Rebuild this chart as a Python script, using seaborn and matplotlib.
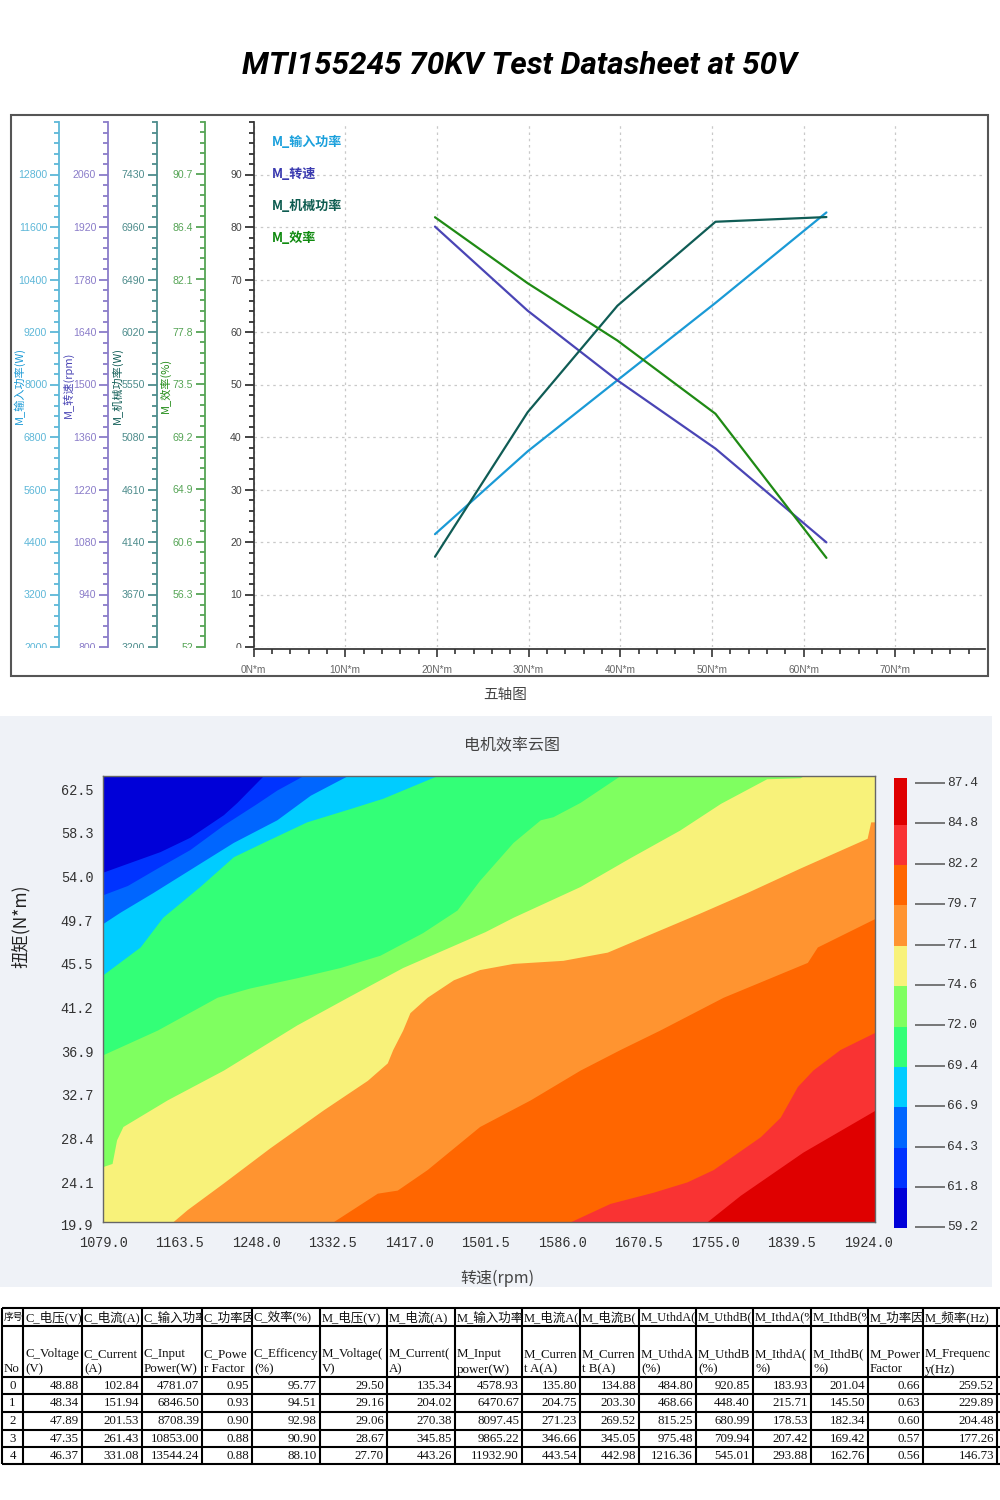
import numpy as np
import matplotlib
matplotlib.use("Agg")
import matplotlib.pyplot as plt
from matplotlib.colors import ListedColormap
from matplotlib.patches import Rectangle
from matplotlib.ticker import FixedLocator, MultipleLocator
import seaborn as sns

# five axis chart
torque = [19.8, 29.9, 39.7, 50.4, 62.5]
input_power = [4578.93, 6470.67, 8097.45, 9865.22, 11932.90]
speed = [1921, 1697, 1511, 1329, 1079]
mech_power = [4008, 5301, 6255, 7007, 7049]
efficiency = [87.2, 81.8, 77.1, 71.1, 59.3]

power_ticks = [2000, 3200, 4400, 5600, 6800, 8000, 9200, 10400, 11600, 12800]
speed_ticks = [800, 940, 1080, 1220, 1360, 1500, 1640, 1780, 1920, 2060]
mech_ticks = [3200, 3670, 4140, 4610, 5080, 5550, 6020, 6490, 6960, 7430]
eff_ticks = [52, 56.3, 60.6, 64.9, 69.2, 73.5, 77.8, 82.1, 86.4, 90.7]
main_ticks = [0, 10, 20, 30, 40, 50, 60, 70, 80, 90]
torque_ticks = [0, 10, 20, 30, 40, 50, 60, 70]
legend_names = ["M_输入功率", "M_转速", "M_机械功率", "M_效率"]

# efficiency map: border between two colour bands
b1_rpm = [1079, 1101, 1142, 1175, 1212, 1227, 1256]
b1_torque = [54.4, 55.1, 56.4, 57.8, 60.0, 61.2, 63.8]
b2_rpm = [1079, 1106, 1139, 1175, 1212, 1249, 1271, 1300]
b2_torque = [52.2, 53.1, 54.8, 56.6, 59.0, 61.1, 62.4, 63.8]
b3_rpm = [1079, 1098, 1134, 1183, 1223, 1271, 1308, 1349]
b3_torque = [49.4, 50.5, 52.4, 55.1, 57.3, 59.5, 61.9, 63.8]
b4_rpm = [1079, 1120, 1145, 1186, 1223, 1256, 1304, 1352, 1388, 1448]
b4_torque = [44.4, 47.1, 50.0, 53.0, 55.9, 57.3, 59.3, 60.6, 61.6, 63.8]
b5_rpm = [1079, 1139, 1205, 1241, 1293, 1341, 1385, 1432, 1470, 1495, 1532, 1562, 1576, 1606, 1650]
b5_torque = [36.6, 39.0, 42.2, 43.1, 44.1, 45.1, 46.3, 48.5, 50.7, 53.6, 57.3, 59.5, 59.8, 61.2, 63.8]
b6_rpm = [1079, 1089, 1094, 1101, 1150, 1212, 1293, 1349, 1410, 1462, 1501, 1532, 1606, 1661, 1716, 1761, 1812, 1849, 1853]
b6_torque = [25.7, 26.0, 28.3, 29.6, 32.2, 35.1, 39.5, 42.2, 45.1, 47.1, 48.6, 50.0, 53.0, 55.8, 58.5, 61.1, 63.5, 63.6, 63.8]
b7_rpm = [1156, 1172, 1212, 1263, 1322, 1371, 1393, 1399, 1410, 1418, 1437, 1466, 1495, 1532, 1587, 1636, 1687, 1738, 1790, 1849, 1923, 1927, 1932]
b7_torque = [20.3, 21.5, 24.1, 27.5, 31.2, 34.1, 35.8, 37.1, 39.0, 40.7, 42.2, 43.9, 44.9, 45.5, 45.8, 46.6, 48.5, 50.4, 52.4, 54.8, 57.7, 59.3, 59.3]
b8_rpm = [1333, 1382, 1404, 1437, 1495, 1551, 1606, 1650, 1694, 1764, 1857, 1868, 1932]
b8_torque = [20.3, 23.1, 23.4, 25.4, 29.6, 32.2, 35.1, 37.1, 39.0, 42.2, 45.6, 47.1, 49.9]
b9_rpm = [1595, 1639, 1687, 1724, 1753, 1805, 1827, 1846, 1863, 1893, 1932]
b9_torque = [20.3, 22.1, 23.2, 24.2, 25.4, 28.6, 30.5, 33.5, 35.1, 37.1, 38.8]
b10_rpm = [1746, 1783, 1852, 1932]
b10_torque = [20.3, 22.9, 27.1, 31.2]

map_x_ticks = [1079.0, 1163.5, 1248.0, 1332.5, 1417.0, 1501.5, 1586.0, 1670.5, 1755.0, 1839.5, 1924.0]
map_y_ticks = [24.1, 28.4, 32.7, 36.9, 41.2, 45.5, 49.7, 54.0, 58.3, 62.5]
level_ticks = [87.4, 84.8, 82.2, 79.7, 77.1, 74.6, 72.0, 69.4, 66.9, 64.3, 61.8, 59.2]
level_colors = ["#0000d8", "#0033ff", "#0066ff", "#00ccff", "#33ff77", "#7fff60",
                "#f8f27a", "#ff9430", "#ff6600", "#f93333", "#df0000"]

# test table, headers cut the way the screenshot cuts them
head_cn = ["序号", "C_电压(V)", "C_电流(A)", "C_输入功率", "C_功率因", "C_效率(%)", "M_电压(V)", "M_电流(A)",
           "M_输入功率", "M_电流A(", "M_电流B(", "M_UthdA(", "M_UthdB(", "M_IthdA(%", "M_IthdB(%",
           "M_功率因", "M_频率(Hz)"]
head_en = ["No", "C_Voltage\n(V)", "C_Current\n(A)", "C_Input\nPower(W)", "C_Powe\nr Factor", "C_Efficency\n(%)",
           "M_Voltage(\nV)", "M_Current(\nA)", "M_Input\npower(W)", "M_Curren\nt A(A)", "M_Curren\nt B(A)",
           "M_UthdA\n(%)", "M_UthdB\n(%)", "M_IthdA(\n%)", "M_IthdB(\n%)", "M_Power\nFactor", "M_Frequenc\ny(Hz)"]
row_no = [0, 1, 2, 3, 4]
c_voltage = [48.88, 48.34, 47.89, 47.35, 46.37]
c_current = [102.84, 151.94, 201.53, 261.43, 331.08]
c_power = [4781.07, 6846.50, 8708.39, 10853.00, 13544.24]
c_factor = [0.95, 0.93, 0.90, 0.88, 0.88]
c_eff = [95.77, 94.51, 92.98, 90.90, 88.10]
m_voltage = [29.50, 29.16, 29.06, 28.67, 27.70]
m_current = [135.34, 204.02, 270.38, 345.85, 443.26]
m_power = [4578.93, 6470.67, 8097.45, 9865.22, 11932.90]
m_current_a = [135.80, 204.75, 271.23, 346.66, 443.54]
m_current_b = [134.88, 203.30, 269.52, 345.05, 442.98]
m_uthd_a = [484.80, 468.66, 815.25, 975.48, 1216.36]
m_uthd_b = [920.85, 448.40, 680.99, 709.94, 545.01]
m_ithd_a = [183.93, 215.71, 178.53, 207.42, 293.88]
m_ithd_b = [201.04, 145.50, 182.34, 169.42, 162.76]
m_factor = [0.66, 0.63, 0.60, 0.57, 0.56]
m_freq = [259.52, 229.89, 204.48, 177.26, 146.73]

CJK = ['Noto Sans CJK SC', 'DejaVu Sans']
MONO = 'Liberation Mono'
SERIF = ['Liberation Serif', 'Noto Sans CJK SC']

sns.set_theme(style="white")
plt.rcParams['font.family'] = ['Liberation Sans', 'Noto Sans CJK SC', 'DejaVu Sans']
plt.rcParams['axes.unicode_minus'] = False

W, H = 1000, 1500
PX = 0.72  # one pixel in points at dpi 100
fig = plt.figure(figsize=(W / 100, H / 100), dpi=100, facecolor="white")


def axes_px(left, top, right, bottom, **kw):
    return fig.add_axes([left / W, 1 - bottom / H, (right - left) / W, (bottom - top) / H], **kw)


# page layer in pixel units, holds panels, free text and the table
bg = axes_px(0, 0, W, H, zorder=-1)
bg.set_xlim(0, W)
bg.set_ylim(H, 0)
bg.axis("off")
bg.add_patch(Rectangle((0, 716), 992, 571, facecolor="#eff2f7", edgecolor="none"))
bg.add_patch(Rectangle((11, 115), 977, 561, facecolor="white", edgecolor="#555555", linewidth=1.5))
bg.text(520, 65, "MTI155245 70KV Test Datasheet at 50V", ha="center", va="center", fontsize=22.7,
        fontweight="bold", fontstyle="italic", family=['Roboto', 'Liberation Sans'], color="black")
bg.text(505, 695, "五轴图", ha="center", va="center", fontsize=10.5, family=CJK, color="#444444")

# === FIVE AXIS CHART ===
ax = axes_px(253.5, 122, 985, 647)
ax.patch.set_alpha(0)
ax.set_xlim(0, 79.8)
ax.set_ylim(0, 100)
ax.yaxis.set_major_locator(FixedLocator(main_ticks))
ax.yaxis.set_minor_locator(MultipleLocator(2))
ax.xaxis.set_major_locator(FixedLocator(torque_ticks))
ax.xaxis.set_minor_locator(MultipleLocator(2))
ax.set_xticklabels([f"{t}N*m" for t in torque_ticks])
ax.grid(True, which="major", color="#c9c9c9", linewidth=0.9, linestyle=(0, (2, 3)))
ax.set_axisbelow(True)
for side in ["top", "right"]:
    ax.spines[side].set_visible(False)
ax.spines["left"].set_color("#333333")
ax.spines["bottom"].set_color("#333333")
ax.spines["bottom"].set_position(("outward", 2 * PX))
ax.tick_params(axis="y", which="major", direction="out", length=9 * PX, width=1.3, color="#333333",
               labelsize=7.6, labelcolor="#444444", pad=2, left=True)
ax.tick_params(axis="y", which="minor", direction="out", length=5 * PX, width=1.3, color="#333333", left=True)
ax.tick_params(axis="x", which="major", direction="out", length=8 * PX, width=1.2, color="#333333",
               labelsize=7.3, labelcolor="#666666", pad=5.5, bottom=True)
ax.tick_params(axis="x", which="minor", direction="out", length=5 * PX, width=1.2, color="#333333", bottom=True)

side_axes = [
    (input_power, power_ticks, (2000, 14000), 1200, "#1a9ad6", "#5db7d8", 59, 19, "M_输入功率(W)"),
    (speed, speed_ticks, (800, 2200), 140, "#4a45b5", "#8a7cc9", 108, 68, "M_转速(rpm)"),
    (mech_power, mech_ticks, (3200, 7900), 470, "#0f5c55", "#4d8c8c", 156.5, 117, "M_机械功率(W)"),
    (efficiency, eff_ticks, (52, 95), 4.3, "#1f8a14", "#55a455", 205, 165, "M_效率(%)"),
]
for values, ticks, lim, step, line_col, axis_col, spine_x, label_x, label in side_axes:
    twin = ax.twinx()
    sns.lineplot(x=torque, y=values, ax=twin, color=line_col, linewidth=1.6)
    twin.set_xlabel("")
    twin.set_ylabel("")
    twin.set_ylim(*lim)
    for side in ["top", "right", "bottom"]:
        twin.spines[side].set_visible(False)
    twin.spines["left"].set_visible(True)
    twin.spines["left"].set_color(axis_col)
    twin.spines["left"].set_linewidth(1.3)
    twin.spines["left"].set_position(("outward", (253.5 - spine_x) * PX))
    twin.yaxis.set_ticks_position("left")
    twin.yaxis.set_major_locator(FixedLocator(ticks))
    twin.yaxis.set_minor_locator(FixedLocator(lim[0] + np.arange(0, 51) * step / 5))
    twin.set_yticklabels([str(t) for t in ticks])
    twin.tick_params(axis="y", which="major", direction="out", length=9 * PX, width=1.3, color=axis_col,
                     labelsize=7.6, labelcolor=axis_col, pad=2, left=True)
    twin.tick_params(axis="y", which="minor", direction="out", length=5 * PX, width=1.3, color=axis_col, left=True)
    bg.text(label_x, 385, label, rotation=90, ha="center", va="center", fontsize=8, family=CJK, color=line_col)

# bottom tick labels of the side axes are cut off in the screenshot
fig.add_artist(Rectangle((13 / W, 1 - 660 / H), 236 / W, 12 / H, facecolor="white", edgecolor="none",
                         transform=fig.transFigure, zorder=10))

legend_colors = ["#1aa0dc", "#3a3ab0", "#0d5c50", "#0f8a0f"]
for i, (name, col) in enumerate(zip(legend_names, legend_colors)):
    fig.text(272 / W, 1 - (142 + i * 32) / H, name, fontsize=9.4, fontweight="bold", family=CJK, color=col,
             va="center", ha="left", zorder=11)

# === EFFICIENCY MAP ===
bg.text(512, 746, "电机效率云图", ha="center", va="center", fontsize=11.5, family=CJK, color="#444444")
bg.text(21, 926, "扭矩(N*m)", rotation=90, ha="center", va="center", fontsize=12.5, family=CJK, color="#222222")
bg.text(497, 1278, "转速(rpm)", ha="center", va="center", fontsize=11.5, family=CJK, color="#444444")

ax_map = axes_px(103, 776, 875, 1222)
ax_map.set_xlim(1079, 1931.7)
ax_map.set_ylim(20.29, 63.77)
ax_map.set_facecolor(level_colors[-1])
borders = [(b1_rpm, b1_torque), (b2_rpm, b2_torque), (b3_rpm, b3_torque), (b4_rpm, b4_torque), (b5_rpm, b5_torque),
           (b6_rpm, b6_torque), (b7_rpm, b7_torque), (b8_rpm, b8_torque), (b9_rpm, b9_torque), (b10_rpm, b10_torque)]
# painted from the hottest band up, each one covers everything above its border
for i in range(len(borders) - 1, -1, -1):
    xs, ys = borders[i]
    ax_map.fill_between(np.r_[1079, xs], np.r_[ys[0], ys], 63.77, color=level_colors[i], linewidth=0, antialiased=False)
ax_map.set_xticks(map_x_ticks)
ax_map.set_xticklabels([f"{v:.1f}" for v in map_x_ticks], family=MONO, fontsize=9.8, color="#333333")
ax_map.set_yticks(map_y_ticks)
ax_map.set_yticklabels([f"{v:.1f}" for v in map_y_ticks], family=MONO, fontsize=9.8, color="#333333")
ax_map.tick_params(axis="x", length=0, pad=10)
ax_map.tick_params(axis="y", length=0, pad=7)
for s in ax_map.spines.values():
    s.set_color("#666666")
    s.set_linewidth(1)
bg.text(93, 1226, "19.9", ha="right", va="center", family=MONO, fontsize=9.8, color="#333333")

# colour scale, the top band is a bit taller than the others
ax_cb = axes_px(894, 778, 907, 1228)
band_rows = [40, 40, 41, 40, 40, 41, 40, 41, 40, 40, 47]
level_arr = np.array(level_ticks[::-1])
mids = (level_arr[:-1] + level_arr[1:]) / 2
sns.heatmap(np.repeat(mids, band_rows)[::-1].reshape(-1, 1), ax=ax_cb, cmap=ListedColormap(level_colors),
            vmin=59.2, vmax=87.4, cbar=False, xticklabels=False, yticklabels=False)
bg.hlines([783 + i * 40.4 for i in range(len(level_ticks))], 915, 945, color="#555555", linewidth=1.1)
for i, v in enumerate(level_ticks):
    bg.text(947, 783 + i * 40.4, f"{v:.1f}", ha="left", va="center", family=MONO, fontsize=9.3, color="#333333")

# === TABLE ===
col_edges = [2, 23, 82, 142, 202, 252, 320, 387, 455, 522, 580, 639, 696, 753, 811, 868, 923, 997]
row_edges = [1308, 1326, 1377, 1394, 1412, 1430, 1447, 1464]
columns = [row_no, c_voltage, c_current, c_power, c_factor, c_eff, m_voltage, m_current, m_power, m_current_a,
           m_current_b, m_uthd_a, m_uthd_b, m_ithd_a, m_ithd_b, m_factor, m_freq]

bg.hlines(row_edges, col_edges[0], 1000, color="black", linewidth=1.5)
bg.vlines(col_edges, row_edges[0], row_edges[-1], color="black", linewidth=1.5)
for c in range(len(columns)):
    left, right = col_edges[c], col_edges[c + 1]
    clip = Rectangle((left, row_edges[0]), right - left, 18, transform=bg.transData)
    # the first column is too narrow for two full signs
    head_size = 7 if c == 0 else 9
    t = bg.text(left + 2, row_edges[0] + 9.5, head_cn[c], ha="left", va="center", family=SERIF, fontsize=head_size, color="#111111")
    t.set_clip_path(clip)
    t.set_clip_on(True)
    bg.text(left + 2, row_edges[2] - 1.5, head_en[c], ha="left", va="bottom", family=SERIF, fontsize=9.3,
            color="#111111", linespacing=1.4)
    for r, val in enumerate(columns[c]):
        mid_y = (row_edges[r + 2] + row_edges[r + 3]) / 2 + 0.5
        if c == 0:
            bg.text((left + right) / 2, mid_y, str(val), ha="center", va="center", family=SERIF, fontsize=9.3, color="#111111")
        else:
            bg.text(right - 3, mid_y, f"{val:.2f}", ha="right", va="center", family=SERIF, fontsize=9.3, color="#111111")

fig.savefig("out.png", dpi=100)
plt.close(fig)
